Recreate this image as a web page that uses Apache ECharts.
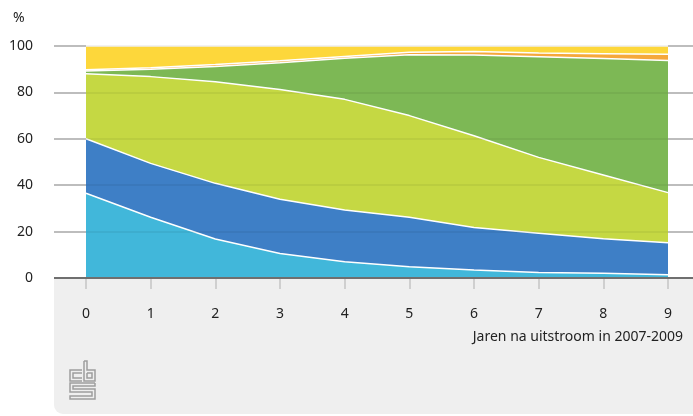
<!DOCTYPE html>
<html><head><meta charset="utf-8">
<script src="https://cdn.jsdelivr.net/npm/echarts@6/dist/echarts.min.js"></script>
<style>html,body{margin:0;padding:0;background:#fff}#c{width:693px;height:416px}</style>
</head><body><div id="c"></div>
<script>
const categories = ['0','1','2','3','4','5','6','7','8','9'];
const yTicks = [0, 20, 40, 60, 80, 100];
const xAxisTitle = 'Jaren na uitstroom in 2007-2009';
const unitLabel = '%';
// layer thicknesses (percent), bottom to top
const layerCyan   = [36.5, 26.2, 16.8, 10.6, 7.0, 4.9, 3.4, 2.4, 2.0, 1.4];
const layerBlue   = [23.5, 23.2, 24.0, 23.3, 22.3, 21.3, 18.4, 16.9, 14.9, 13.8];
const layerLime   = [28.0, 37.4, 43.8, 47.4, 47.7, 43.8, 39.5, 32.7, 27.5, 21.6];
const layerGreen  = [1.2, 3.2, 6.6, 11.5, 17.7, 26.2, 34.8, 43.4, 50.2, 57.0];
const layerOrange = [0.6, 0.6, 0.8, 0.8, 0.8, 1.1, 1.5, 1.6, 2.1, 2.6];
const layerYellow = [10.2, 9.4, 8.0, 6.4, 4.5, 2.7, 2.4, 3.0, 3.3, 3.6];

const layers = [
  {data: layerCyan, color: '#41b7da'},
  {data: layerBlue, color: '#3e7fc6'},
  {data: layerLime, color: '#c5d843'},
  {data: layerGreen, color: '#7db855'},
  {data: layerOrange, color: '#f5a83b'},
  {data: layerYellow, color: '#fdd73b'}
];
const FONT = 'Noto Sans';
const chart = echarts.init(document.getElementById('c'), null, {renderer: 'canvas'});
const gray = '#9e9e9e';
chart.setOption({
  animation: false,
  textStyle: {fontFamily: FONT},
  title: {text: unitLabel, left: 8, top: 6, textStyle: {fontFamily: FONT, fontSize: 14, fontWeight: 'normal', color: '#222'}},
  grid: {left: 86, right: 25, top: 46, bottom: 138},
  graphic: [
    {type: 'rect', z: -10, shape: {x: 54, y: 278, width: 639, height: 136, r: [0, 0, 0, 9]}, style: {fill: '#efefef'}},
    {type: 'line', z: 50, shape: {x1: 54, y1: 278, x2: 693, y2: 278}, style: {stroke: '#6f6f6f', lineWidth: 2}},
    {type: 'text', right: 10, top: 330, style: {text: xAxisTitle, font: '14px "Noto Sans"', fill: '#222'}},
    {type: 'group', children: [
      {type: 'polyline', shape: {points: [[82,370],[70,370],[70,381],[82,381]]}, style: {stroke: gray, fill: null, lineWidth: 1.5}},
      {type: 'polyline', shape: {points: [[82,373],[73,373],[73,378],[82,378]]}, style: {stroke: gray, fill: null, lineWidth: 1.5}},
      {type: 'polyline', shape: {points: [[84,361],[84,381],[95,381],[95,370],[87,370],[87,361],[84,361]]}, style: {stroke: gray, fill: null, lineWidth: 1.5}},
      {type: 'polyline', shape: {points: [[87,373],[92,373],[92,378],[87,378],[87,373]]}, style: {stroke: gray, fill: null, lineWidth: 1.5}},
      {type: 'polyline', shape: {points: [[95,383],[70,383],[70,392],[92,392],[92,396],[70,396],[70,399],[95,399],[95,389],[73,389],[73,386],[95,386],[95,383]]}, style: {stroke: gray, fill: null, lineWidth: 1.5}}
    ]}
  ],
  xAxis: {
    type: 'category', data: categories, boundaryGap: false,
    axisLine: {show: false},
    axisTick: {show: true, length: 11, lineStyle: {color: '#cfcfcf', width: 2}},
    axisLabel: {margin: 29, fontSize: 14, color: '#222', fontFamily: FONT},
    splitLine: {show: false}
  },
  yAxis: [
    {type: 'value', min: 0, max: 100, interval: 20, z: 10,
     axisLine: {show: false},
     axisTick: {show: true, length: 32, lineStyle: {color: '#a8a8a8', width: 1.5}},
     axisLabel: {margin: 53, fontSize: 14, color: '#222', fontFamily: FONT,
       formatter: v => yTicks.includes(v) ? String(v) : ''},
     splitLine: {show: true, lineStyle: {color: 'rgba(0,0,0,0.07)', width: 1.5}}},
    {type: 'value', min: 0, max: 100, interval: 20, position: 'right', z: 10,
     axisLine: {show: false},
     axisTick: {show: true, length: 25, lineStyle: {color: '#a8a8a8', width: 1.5}},
     axisLabel: {show: false}, splitLine: {show: false}}
  ],
  series: layers.map((l, i) => ({
    type: 'line', stack: 'total', data: l.data, symbol: 'none', z: 2,
    lineStyle: {color: '#ffffff', width: 1.5},
    areaStyle: {color: l.color, opacity: 1},
    itemStyle: {color: l.color}
  }))
});
</script></body></html>
